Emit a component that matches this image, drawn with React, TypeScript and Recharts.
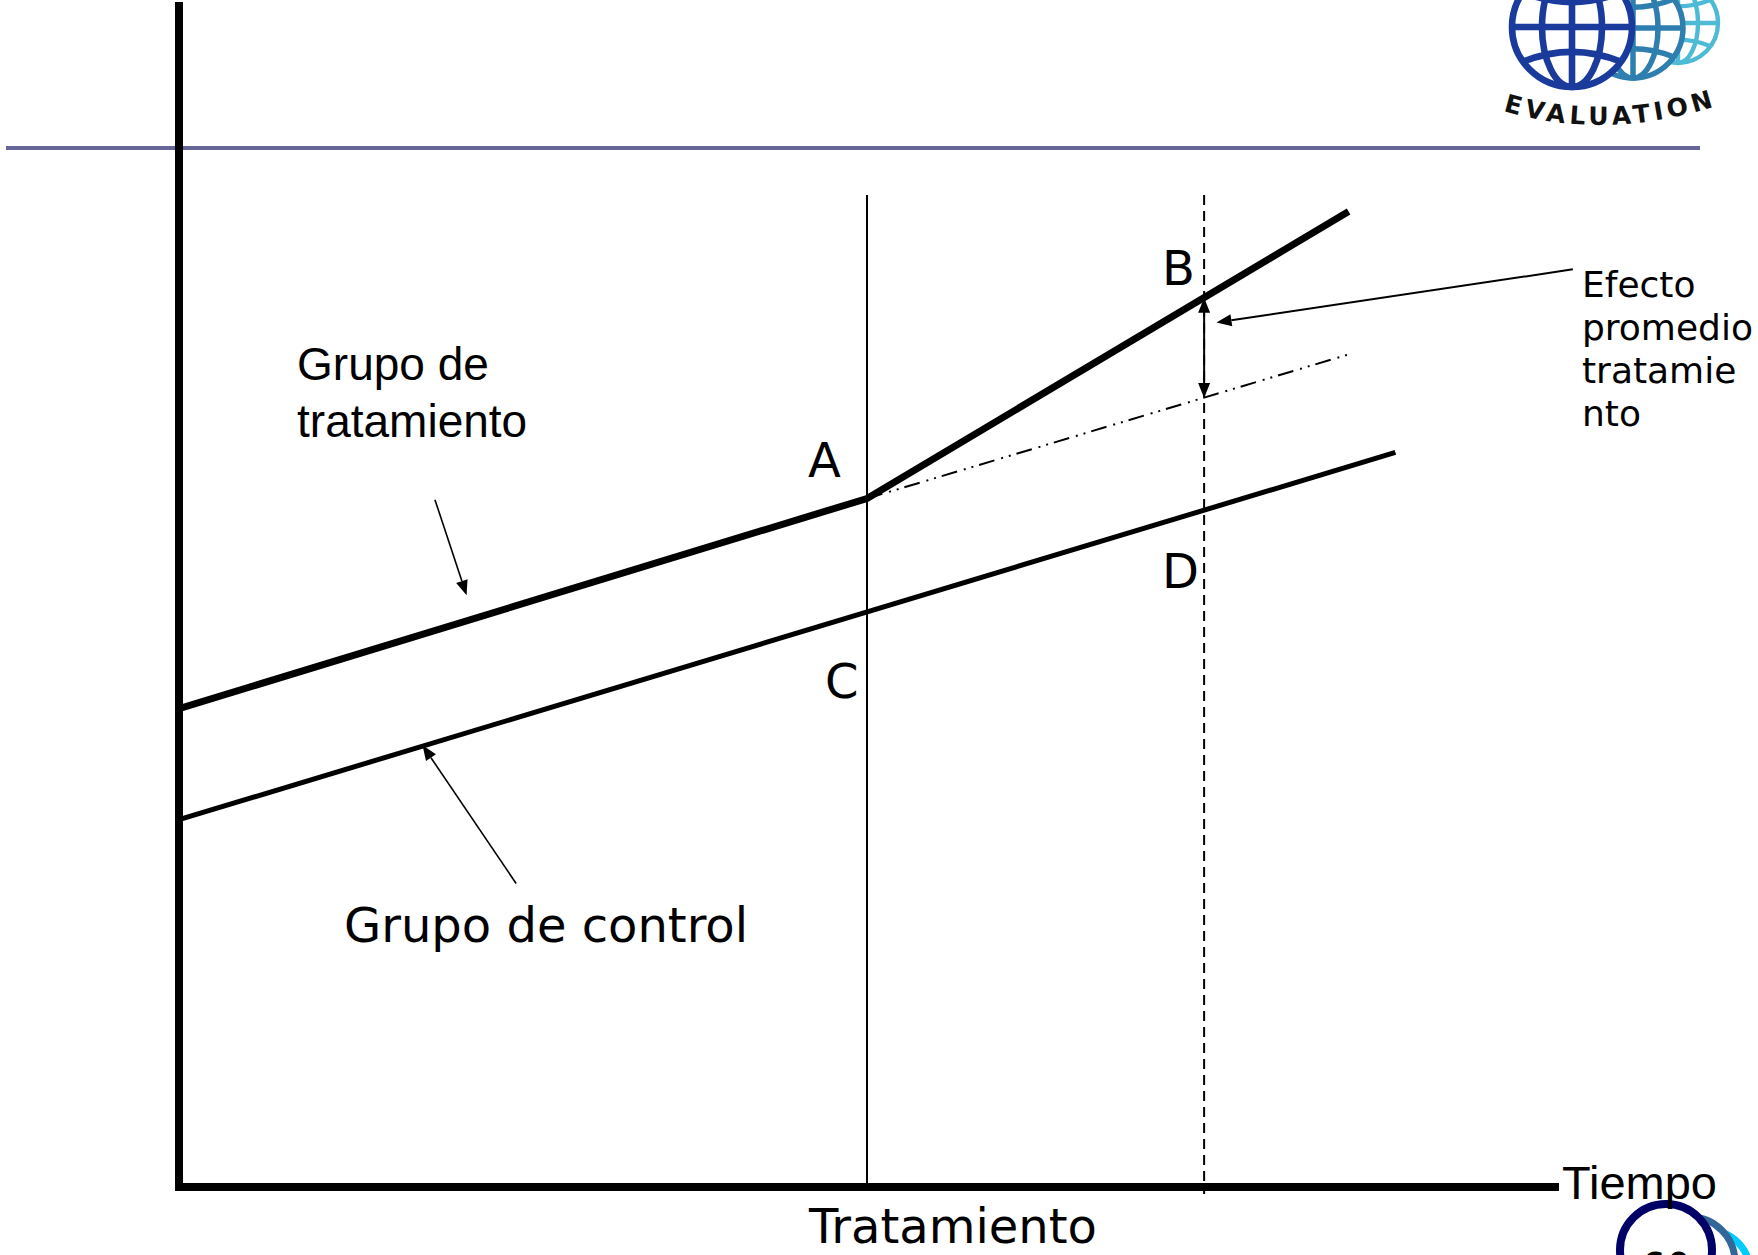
import React from 'react';
import { ComposedChart, Line, XAxis, YAxis, ReferenceLine, ReferenceDot } from 'recharts';

const W = 1758;
const H = 1255;

// eje de tiempo y eje de resultado (unidades arbitrarias)
const timeDomain = [0, 100];
const outcomeDomain = [0, 100];

// series
const grupoTratamiento = [
  { t: 0, v: 40.5 },
  { t: 50, v: 58.3 },
  { t: 85, v: 82.6 },
];
const grupoControl = [
  { t: 0, v: 31.1 },
  { t: 88.4, v: 62.2 },
];
const contrafactual = [
  { t: 50, v: 58.3 },
  { t: 85, v: 70.5 },
];

// momentos
const momentoTratamiento = 50;
const momentoMedicion = 74.5;
const topeLineas = 84;
const xTickLabels = ['Tratamiento'];

// flechas (desde -> hasta)
const flechas = [
  { id: 'efecto', from: { t: 101.3, v: 77.7 }, to: { t: 75.4, v: 73.2 }, doble: false, ancho: 2 },
  { id: 'diferencia', from: { t: 74.5, v: 66.8 }, to: { t: 74.5, v: 75.3 }, doble: true, ancho: 2 },
  { id: 'grupoT', from: { t: 18.6, v: 58.2 }, to: { t: 20.9, v: 50.1 }, doble: false, ancho: 1.6 },
  { id: 'grupoC', from: { t: 24.5, v: 25.7 }, to: { t: 17.7, v: 37.4 }, doble: false, ancho: 1.6 },
];

// textos
const textos = [
  { id: 'gt', lineas: ['Grupo de', 'tratamiento'], t: 8.58, v: 68.33, arial: true },
  { id: 'A', lineas: ['A'], t: 45.71, v: 60.12 },
  { id: 'B', lineas: ['B'], t: 71.44, v: 76.38 },
  { id: 'C', lineas: ['C'], t: 46.95, v: 41.41 },
  { id: 'D', lineas: ['D'], t: 71.44, v: 50.72 },
  { id: 'gc', lineas: ['Grupo de control'], t: 11.99, v: 20.74 },
  { id: 'ef', lineas: ['Efecto', 'promedio', 'tratamie', 'nto'], t: 101.96, v: 75.36, small: true },
];

const ARIAL = '"Liberation Sans", Arial, sans-serif';
const VERDANA = '"DejaVu Sans", Verdana, sans-serif';

const drawArrow = (doble: boolean, ancho: number) => (props: any) => {
  const { x1, y1, x2, y2 } = props;
  const ang = Math.atan2(y2 - y1, x2 - x1);
  const len = 15;
  const half = 6;
  const head = (tx: number, ty: number, a: number) => {
    const bx = tx - len * Math.cos(a);
    const by = ty - len * Math.sin(a);
    const px = -Math.sin(a) * half;
    const py = Math.cos(a) * half;
    return `${tx},${ty} ${bx + px},${by + py} ${bx - px},${by - py}`;
  };
  const sx = doble ? x1 + len * Math.cos(ang) : x1;
  const sy = doble ? y1 + len * Math.sin(ang) : y1;
  return (
    <g>
      <line x1={sx} y1={sy} x2={x2 - len * Math.cos(ang)} y2={y2 - len * Math.sin(ang)} stroke="#000" strokeWidth={ancho} />
      <polygon points={head(x2, y2, ang)} fill="#000" />
      {doble && <polygon points={head(x1, y1, ang + Math.PI)} fill="#000" />}
    </g>
  );
};

const drawText = (lineas: string[], arial?: boolean, small?: boolean) => (props: any) => {
  const size = arial ? 46 : small ? 36 : 48;
  const lh = arial ? 57 : 43;
  return (
    <text x={props.cx} y={props.cy} fontFamily={arial ? ARIAL : VERDANA} fontSize={size} fill="#000">
      {lineas.map((l, i) => (
        <tspan key={i} x={props.cx} dy={i === 0 ? 0 : lh}>
          {l}
        </tspan>
      ))}
    </text>
  );
};

const TratamientoTick = (props: any) => (
  <text x={props.x - 58} y={1243} fontFamily={VERDANA} fontSize={48} fill="#000">
    {xTickLabels[props.index] ?? ''}
  </text>
);

const Globe = ({ cx, cy, r, color }: { cx: number; cy: number; r: number; color: string }) => (
  <g stroke={color} strokeWidth={r * 0.11} fill="none">
    <circle cx={cx} cy={cy} r={r} fill="#fff" />
    <line x1={cx} y1={cy - r} x2={cx} y2={cy + r} />
    <line x1={cx - r} y1={cy} x2={cx + r} y2={cy} />
    <ellipse cx={cx} cy={cy} rx={r * 0.5} ry={r} />
    <path d={`M ${cx - r * 0.82} ${cy + r * 0.58} Q ${cx} ${cy + r * 0.25} ${cx + r * 0.82} ${cy + r * 0.58}`} />
    <path d={`M ${cx - r * 0.82} ${cy - r * 0.58} Q ${cx} ${cy - r * 0.25} ${cx + r * 0.82} ${cy - r * 0.58}`} />
  </g>
);

const Decoracion = () => (
  <svg width={W} height={H} style={{ position: 'absolute', left: 0, top: 0 }}>
    {/* linea del encabezado */}
    <line x1={6} y1={148} x2={1700} y2={148} stroke="#666699" strokeWidth={4} />
    {/* logo */}
    <Globe cx={1678} cy={23} r={40} color="#4DBBD5" />
    <Globe cx={1633} cy={28} r={50} color="#2E7FB0" />
    <Globe cx={1572} cy={27} r={60} color="#1A3A9C" />
    <path id="arcoEval" d="M 1503 111 Q 1610 142 1722 104" fill="none" />
    <text fontFamily={VERDANA} fontSize={25} fontWeight="bold" fill="#111">
      <textPath href="#arcoEval" textLength={214} lengthAdjust="spacing">
        EVALUATION
      </textPath>
    </text>
    {/* numero de pagina */}
    <circle cx={1708} cy={1272} r={42} fill="#fff" stroke="#00CCFF" strokeWidth={7} />
    <circle cx={1690} cy={1262} r={45} fill="#fff" stroke="#336699" strokeWidth={7} />
    <circle cx={1666} cy={1250} r={46} fill="#fff" stroke="#000066" strokeWidth={8} />
    <text x={1666} y={1282} textAnchor="middle" fontFamily={VERDANA} fontSize={40} fill="#000">
      60
    </text>
  </svg>
);

export default function App() {
  return (
    <div style={{ position: 'absolute', left: 0, top: 0, width: W, height: H, background: '#fff' }}>
      <Decoracion />
      <div style={{ position: 'absolute', left: 0, top: 0 }}>
        <ComposedChart width={W} height={H} margin={{ top: 6, right: 203, bottom: 67, left: 178 }}>
          <XAxis
            type="number"
            dataKey="t"
            domain={timeDomain}
            allowDataOverflow
            height={1}
            ticks={[momentoTratamiento]}
            tick={TratamientoTick}
            tickLine={false}
            tickSize={0}
            tickMargin={0}
            axisLine={{ stroke: '#000', strokeWidth: 8, strokeLinecap: 'square' }}
            label={{
              content: (p: any) => (
                <text
                  x={p.viewBox.x + p.viewBox.width + 7}
                  y={1199}
                  fontFamily={ARIAL}
                  fontSize={47}
                  fill="#000"
                >
                  Tiempo
                </text>
              ),
            }}
          />
          <YAxis
            type="number"
            dataKey="v"
            domain={outcomeDomain}
            allowDataOverflow
            width={1}
            tick={false}
            tickLine={false}
            axisLine={{ stroke: '#000', strokeWidth: 8, strokeLinecap: 'square' }}
          />

          {/* lineas verticales: tratamiento y medicion */}
          <ReferenceLine
            segment={[{ x: momentoTratamiento, y: topeLineas }, { x: momentoTratamiento, y: 0 }]}
            stroke="#000"
            strokeWidth={2}
            ifOverflow="visible"
          />
          <ReferenceLine
            segment={[{ x: momentoMedicion, y: topeLineas }, { x: momentoMedicion, y: -0.6 }]}
            stroke="#000"
            strokeWidth={2}
            strokeDasharray="10 6"
            ifOverflow="visible"
          />

          <Line
            data={contrafactual}
            dataKey="v"
            type="linear"
            stroke="#000"
            strokeWidth={2}
            strokeDasharray="16 7 2 6 2 6"
            dot={false}
            activeDot={false}
            legendType="none"
            isAnimationActive={false}
          />
          <Line
            data={grupoControl}
            dataKey="v"
            type="linear"
            stroke="#000"
            strokeWidth={5}
            dot={false}
            activeDot={false}
            legendType="none"
            isAnimationActive={false}
          />
          <Line
            data={grupoTratamiento}
            dataKey="v"
            type="linear"
            stroke="#000"
            strokeWidth={7}
            dot={false}
            activeDot={false}
            legendType="none"
            isAnimationActive={false}
          />

          {flechas.map((f) => (
            <ReferenceLine
              key={f.id}
              segment={[{ x: f.from.t, y: f.from.v }, { x: f.to.t, y: f.to.v }]}
              ifOverflow="visible"
              shape={drawArrow(f.doble, f.ancho)}
            />
          ))}

          {textos.map((tx) => (
            <ReferenceDot
              key={tx.id}
              x={tx.t}
              y={tx.v}
              r={0}
              ifOverflow="visible"
              shape={drawText(tx.lineas, tx.arial, tx.small)}
            />
          ))}
        </ComposedChart>
      </div>
    </div>
  );
}
